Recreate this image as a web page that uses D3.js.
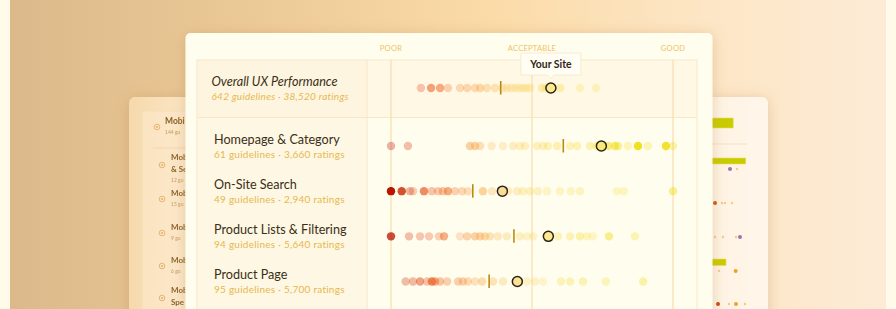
<!DOCTYPE html>
<html>
<head>
<meta charset="utf-8">
<title>UX Performance</title>
<script src="https://d3js.org/d3.v7.min.js"></script>
<style>
  body { margin: 0; background: #fffbe8; }
  svg { display: block; font-family: Lato, "Open Sans", sans-serif; }
</style>
</head>
<body>
<div id="chart"></div>
<script>
// ---- data ----
const categories = ["Overall UX Performance", "Homepage & Category", "On-Site Search", "Product Lists & Filtering", "Product Page"];
const guidelines = [642, 61, 49, 94, 95];
const ratings = [38520, 3660, 2940, 5640, 5700];
const medians = [38.9, 61.1, 29, 43.6, 34.8];
const yourSite = [56.7, 74.6, 39.5, 55.8, 44.8];
const zoneLabels = ["POOR", "ACCEPTABLE", "GOOD"];
const zoneValues = [0, 50, 100];

// each dot: [score, strength]
const overallDots = [[10.6,.3],[14.2,.55],[17.4,.55],[20.2,.3],[24.5,.3],[27,.35],[29.8,.35],[31.6,.4],[34,.35],[36.9,.35],
  [39.5,.3],[41.1,.3],[42.6,.3],[44,.3],[45.5,.3],[46.8,.3],[48,.3],[49.3,.3],[53.5,.35],[55,.35],[60,.35],[67,.22],[72.7,.22]];
const homepageDots = [[0,.3],[6,.3],[28,.45],[29.8,.45],[31.6,.35],[35.7,.25],[39.7,.25],[43.3,.3],[45.7,.3],[47.5,.3],
  [51.8,.3],[53.9,.3],[55.7,.3],[58.9,.35],[63.5,.3],[66,.3],[70.6,.3],[73,.35],[77,.5],[79.4,.55],[80.5,.4],[84,.22],[87.6,.85],[91.1,.25],[97.5,.8],[100,.3]];
const searchDots = [[0,1],[3.8,.8],[6.7,.35],[7.8,.25],[11.7,.65],[14.5,.35],[16.7,.35],[18.4,.4],[20.2,.6],[22.7,.35],[25.2,.35],
  [27.3,.3],[32.6,.5],[35.8,.3],[41.5,.3],[44.7,.3],[46.8,.3],[49.3,.3],[52.1,.3],[55.3,.25],[59.9,.25],[63.8,.25],[67,.25],[80.1,.2],[82.6,.2],[100,.4]];
const listDots = [[0,.75],[6.4,.3],[10.3,.3],[13.5,.3],[17,.3],[18.8,.55],[24.5,.25],[27,.4],[29.8,.45],[31.6,.45],[33.3,.4],
  [35.1,.35],[37.9,.3],[41.1,.3],[45.7,.3],[48.2,.25],[50.4,.25],[59.2,.3],[63.5,.3],[67,.35],[69.5,.25],[71.6,.2],[77.3,.45],[86.5,.25]];
const productDots = [[5.2,.3],[7.8,.35],[10.3,.5],[12.8,.35],[14.5,.7],[15.6,.5],[17.4,.4],[19.9,.35],[23.8,.4],[25.5,.4],
  [27.3,.35],[29.8,.3],[32.3,.4],[36.2,.35],[39.7,.3],[48.2,.25],[51.1,.25],[53.9,.2],[60.3,.3],[63.5,.3],[68.1,.3],[76.2,.25],[89.4,.3]];
const allDots = [overallDots, homepageDots, searchDots, listDots, productDots];

// faded cards behind (only the visible fragments)
const backTitles = [["Mobi"], ["Mob", "& Se"], ["Mob"], ["Mob"], ["Mob"], ["Mob", "Spe"]];
const backCounts = ["144 gu", "12 gu", "15 gu", "9 gu", "6 gu", ""];
const backBars = [48, 62, 40];

const W = 896, H = 309;
const cream = "#fffdee";

const svg = d3.select("#chart").append("svg").attr("width", W).attr("height", H);
const defs = svg.append("defs");

const bg = defs.append("linearGradient").attr("id", "bg");
[[0, "#dcb98a"], [0.3, "#edcb98"], [0.55, "#fbdba8"], [0.8, "#fde6c6"], [1, "#fdebd6"]]
  .forEach(s => bg.append("stop").attr("offset", s[0]).attr("stop-color", s[1]));
const lc = defs.append("linearGradient").attr("id", "leftcard");
[[0, "#f6d9ac"], [1, "#fff3de"]].forEach(s => lc.append("stop").attr("offset", s[0]).attr("stop-color", s[1]));
const rc = defs.append("linearGradient").attr("id", "rightcard");
[[0, "#fff0dc"], [1, "#fff6ea"]].forEach(s => rc.append("stop").attr("offset", s[0]).attr("stop-color", s[1]));

const shadow = defs.append("filter").attr("id", "shadow").attr("x", -0.2).attr("y", -0.2).attr("width", 1.4).attr("height", 1.4);
shadow.append("feDropShadow").attr("dx", 0).attr("dy", 2).attr("stdDeviation", 7)
  .attr("flood-color", "#b8864a").attr("flood-opacity", 0.35);
const soft = defs.append("filter").attr("id", "soft");
soft.append("feGaussianBlur").attr("stdDeviation", 0.7);
const fade = defs.append("filter").attr("id", "fade");
fade.append("feGaussianBlur").attr("stdDeviation", 0.35);
defs.append("clipPath").attr("id", "leftclip").append("rect").attr("x", 100).attr("y", 0).attr("width", 85.5).attr("height", H);

svg.append("rect").attr("x", 10).attr("y", 0).attr("width", 876).attr("height", H).attr("fill", "url(#bg)");

// ---- left card behind ----
svg.append("rect").attr("x", 129).attr("y", 97).attr("width", 120).attr("height", 240).attr("rx", 6)
  .attr("fill", "url(#leftcard)").attr("filter", "url(#shadow)");
const left = svg.append("g").attr("clip-path", "url(#leftclip)").append("g").attr("filter", "url(#fade)");
left.append("rect").attr("x", 142).attr("y", 111).attr("width", 100).attr("height", 230)
  .attr("fill", "#fdebd0").attr("opacity", 0.5).attr("stroke", "#f6dcb4");
left.append("line").attr("x1", 153).attr("x2", 240).attr("y1", 148).attr("y2", 148).attr("stroke", "#f5d6ae");
const backY = [124, 160, 196, 230, 263, 293];
backTitles.forEach((t, i) => {
  const ix = i === 0 ? 157 : 162, tx = i === 0 ? 165 : 171;
  const iy = t.length > 1 ? backY[i] + 5 : backY[i] + 3;
  left.append("circle").attr("cx", ix).attr("cy", iy).attr("r", 2.8).attr("fill", "none").attr("stroke", "#e3a858").attr("stroke-width", 0.8);
  left.append("circle").attr("cx", ix).attr("cy", iy).attr("r", 0.9).attr("fill", "#e3a858");
  t.forEach((line, j) => left.append("text").attr("x", tx).attr("y", backY[i] + j * 11.5)
    .attr("font-size", i === 0 ? 8.5 : 8).attr("font-weight", 700).attr("fill", "#8a6228").text(line));
  if (backCounts[i]) left.append("text").attr("x", tx).attr("y", backY[i] + (t.length - 1) * 11.5 + 10)
    .attr("font-size", 5).attr("fill", "#c99a5c").text(backCounts[i]);
});

// ---- right card behind ----
const right = svg.append("g").attr("filter", "url(#fade)");
right.append("rect").attr("x", 650).attr("y", 97).attr("width", 118).attr("height", 240).attr("rx", 6)
  .attr("fill", "url(#rightcard)").attr("filter", "url(#shadow)");
right.append("line").attr("x1", 700).attr("x2", 747).attr("y1", 144).attr("y2", 144).attr("stroke", "#f7dfc0");
const barX = d3.scaleLinear().domain([0, 100]).range([690, 780]);
const barRows = [[118, 10], [158, 6], [259, 6.5]];
barRows.forEach((b, i) => right.append("rect").attr("x", 690).attr("y", b[0])
  .attr("width", barX(backBars[i]) - 690).attr("height", b[1]).attr("fill", "#c8cc00").attr("stroke", "#e7e060").attr("stroke-width", 0.6));
const backDots = [[730, 169, "#9b74b0", 2], [737, 169, "#f6c890", 1.2], [715, 203, "#d0580a", 2], [722, 203, "#f6c890", 1.2], [725, 203, "#f6c890", 1.2],
  [732, 203, "#f6c890", 1.2], [740, 237, "#9b74b0", 2], [715, 237, "#f6c890", 1.2], [723, 237, "#f6c890", 1.2], [736, 237, "#f6c890", 1.2],
  [735.7, 271, "#f4a020", 2], [719, 271, "#f6c890", 1.2], [718, 304, "#c84a08", 2], [736, 304, "#f4a020", 2], [729, 304, "#f6c890", 1.2], [745, 304, "#f6c890", 1.2]];
backDots.forEach(d => right.append("circle").attr("cx", d[0]).attr("cy", d[1]).attr("r", d[3]).attr("fill", d[2]));

// ---- main card ----
svg.append("rect").attr("x", 185.5).attr("y", 33).attr("width", 527).attr("height", 300).attr("rx", 5)
  .attr("fill", cream).attr("filter", "url(#shadow)");

const x = d3.scaleLinear().domain([0, 100]).range([391, 673]);
const tableL = 197, tableR = 697, tableT = 60, labelR = 367, sepY = 117.5;

svg.append("rect").attr("x", tableL).attr("y", tableT).attr("width", tableR - tableL).attr("height", sepY - tableT).attr("fill", "#fff8e4");
svg.append("rect").attr("x", tableL).attr("y", tableT).attr("width", labelR - tableL).attr("height", H - tableT).attr("fill", "#fdf2dc").attr("opacity", 0.55);
svg.append("rect").attr("x", tableL).attr("y", tableT).attr("width", tableR - tableL).attr("height", H)
  .attr("fill", "none").attr("stroke", "#f8e8cc");
svg.append("line").attr("x1", tableL).attr("x2", tableR).attr("y1", sepY).attr("y2", sepY).attr("stroke", "#f8e6c8");
svg.append("line").attr("x1", labelR).attr("x2", labelR).attr("y1", tableT).attr("y2", H).attr("stroke", "#f8e6c8");

zoneValues.forEach((v, i) => {
  svg.append("line").attr("x1", x(v)).attr("x2", x(v)).attr("y1", tableT).attr("y2", H)
    .attr("stroke", "#f9dcae").attr("stroke-width", 1.2);
  svg.append("text").attr("x", x(v)).attr("y", 50.5).attr("text-anchor", "middle")
    .attr("font-size", 7.6).attr("letter-spacing", 0.2).attr("fill", "#f0c466").text(zoneLabels[i]);
});

const rowY = d3.scalePoint().domain(categories.slice(1)).range([146, 281.5]);
const yOf = i => i === 0 ? 88 : rowY(categories[i]);

const hue = d3.scaleLinear().domain([0, 12, 25, 42, 60, 85])
  .range(["#b81200", "#e8501a", "#f59040", "#f9c858", "#f6da40", "#eedc00"]).clamp(true);
const fmt = d3.format(",");

categories.forEach((name, i) => {
  const y = yOf(i);
  const tx = i === 0 ? 211.5 : 214;
  svg.append("text").attr("x", tx).attr("y", y - 2.5)
    .attr("font-size", 12.6).attr("font-style", i === 0 ? "italic" : "normal")
    .attr("fill", "#3a2f16").text(name);
  svg.append("text").attr("x", tx).attr("y", y + 11.5)
    .attr("font-size", 10).attr("letter-spacing", 0.25).attr("font-style", i === 0 ? "italic" : "normal")
    .attr("fill", "#e6b84e").text(`${guidelines[i]} guidelines · ${fmt(ratings[i])} ratings`);

  const g = svg.append("g").attr("filter", "url(#soft)");
  g.selectAll("circle").data(allDots[i]).join("circle")
    .attr("cx", d => x(d[0])).attr("cy", y).attr("r", 4.2)
    .attr("fill", d => hue(d[0])).attr("fill-opacity", d => d[1]);

  svg.append("line").attr("x1", x(medians[i])).attr("x2", x(medians[i]))
    .attr("y1", y - 7).attr("y2", y + 6.5).attr("stroke", "#b88a10").attr("stroke-width", 1.6);

  svg.append("circle").attr("cx", x(yourSite[i])).attr("cy", y).attr("r", 5)
    .attr("fill", d3.interpolateRgb(cream, hue(yourSite[i]))(0.55))
    .attr("stroke", "#2b2412").attr("stroke-width", 1.5);
});

// tooltip
const tipX = x(yourSite[0]);
const tip = svg.append("g");
tip.append("path")
  .attr("d", `M${tipX - 30},53 h60 v22 h-26.5 l-3.5,3.5 l-3.5,-3.5 h-26.5 z`)
  .attr("fill", "#fffdf4").attr("stroke", "#f8ead2").attr("stroke-width", 1);
tip.append("text").attr("x", tipX).attr("y", 67.5).attr("text-anchor", "middle")
  .attr("font-size", 10.4).attr("font-weight", 700).attr("fill", "#2d2614").text("Your Site");
</script>
</body>
</html>
